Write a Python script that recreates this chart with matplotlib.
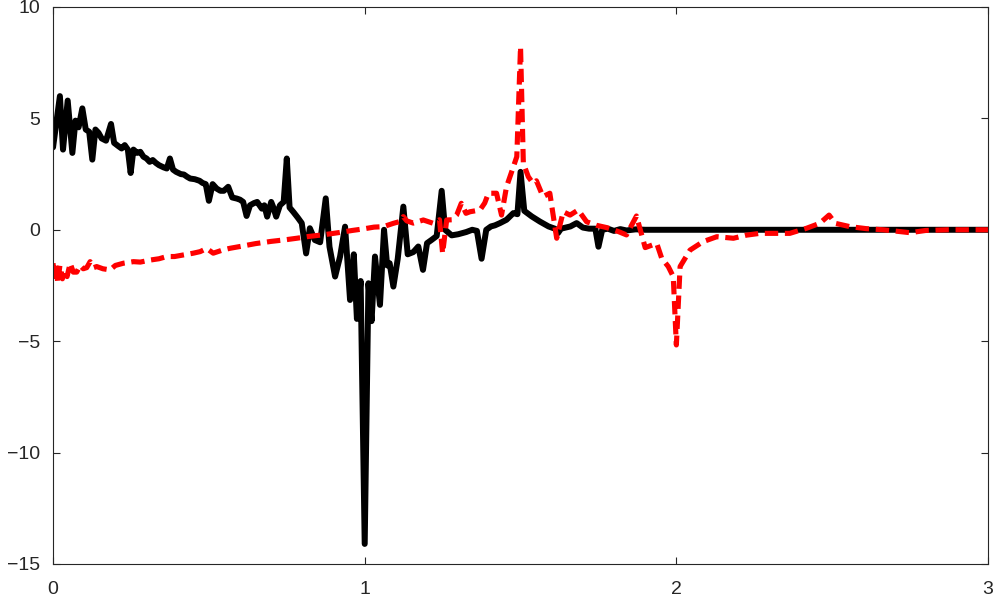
import matplotlib
matplotlib.use('Agg')
import matplotlib.pyplot as plt

# black curve, vertices
black_x = [0.000, 0.022, 0.032, 0.047, 0.062, 0.072, 0.082, 0.094, 0.105, 0.116,
           0.126, 0.136, 0.146, 0.156, 0.170, 0.186, 0.196, 0.210, 0.220, 0.230,
           0.240, 0.249, 0.258, 0.270, 0.280, 0.290, 0.300, 0.310, 0.320, 0.330,
           0.340, 0.355, 0.365, 0.375, 0.385, 0.395, 0.410, 0.420, 0.430, 0.440,
           0.455, 0.470, 0.480, 0.490, 0.500, 0.512, 0.525, 0.537, 0.548, 0.562,
           0.575, 0.590, 0.600, 0.610, 0.621, 0.632, 0.645, 0.655, 0.670, 0.678,
           0.687, 0.700, 0.707, 0.716, 0.728, 0.740, 0.750, 0.759, 0.771, 0.785,
           0.798, 0.812, 0.824, 0.840, 0.857, 0.875, 0.887, 0.905, 0.921, 0.937,
           0.953, 0.965, 0.975, 0.987, 1.000, 1.012, 1.022, 1.033, 1.049, 1.062,
           1.072, 1.080, 1.092, 1.106, 1.124, 1.138, 1.156, 1.172, 1.187, 1.200,
           1.215, 1.231, 1.247, 1.258, 1.279, 1.300, 1.326, 1.345, 1.360, 1.375,
           1.390, 1.405, 1.418, 1.434, 1.455, 1.477, 1.490, 1.500, 1.512, 1.536,
           1.562, 1.590, 1.610, 1.620, 1.630, 1.660, 1.680, 1.700, 1.720, 1.740,
           1.750, 1.762, 1.780, 1.800, 1.820, 1.840, 1.870, 1.900, 3.000]
black_y = [3.70, 6.00, 3.60, 5.80, 3.45, 4.90, 4.60, 5.45, 4.50, 4.40,
           3.15, 4.50, 4.35, 4.10, 4.00, 4.75, 3.90, 3.75, 3.65, 3.80,
           3.60, 2.55, 3.60, 3.45, 3.50, 3.28, 3.20, 3.05, 3.13, 3.00,
           2.90, 2.80, 2.75, 3.20, 2.70, 2.60, 2.50, 2.48, 2.38, 2.30,
           2.27, 2.20, 2.10, 2.05, 1.30, 2.05, 1.85, 1.75, 1.75, 1.93,
           1.45, 1.40, 1.35, 1.25, 0.62, 1.10, 1.20, 1.25, 0.95, 1.10,
           0.59, 1.25, 1.00, 0.59, 1.10, 1.25, 3.20, 1.00, 0.80, 0.55,
           0.30, -1.06, 0.07, -0.46, -0.56, 1.41, -0.76, -2.10, -1.20, 0.14,
           -3.15, -1.10, -4.00, -2.30, -14.10, -2.40, -4.10, -1.20, -3.37, 0.00,
           -1.60, -1.50, -2.55, -1.30, 1.04, -1.10, -1.00, -0.75, -1.80, -0.60,
           -0.45, -0.28, 1.75, 0.00, -0.25, -0.20, -0.10, 0.00, -0.05, -1.30,
           0.00, 0.15, 0.20, 0.30, 0.45, 0.75, 0.70, 2.60, 0.85, 0.60,
           0.37, 0.15, 0.05, -0.15, 0.05, 0.15, 0.30, 0.10, 0.05, 0.05,
           -0.76, 0.00, 0.05, -0.05, 0.03, -0.03, 0.02, 0.00, 0.00]

# red dashed curve
red_x = [0.000, 0.005, 0.010, 0.015, 0.022, 0.030, 0.035, 0.045, 0.055, 0.065,
         0.076, 0.087, 0.097, 0.108, 0.119, 0.130, 0.140, 0.160, 0.183, 0.200,
         0.226, 0.258, 0.280, 0.311, 0.340, 0.365, 0.390, 0.418, 0.450, 0.472,
         0.493, 0.514, 0.546, 0.568, 0.600, 0.650, 0.700, 0.750, 0.782, 0.820,
         0.870, 0.920, 0.960, 0.996, 1.030, 1.060, 1.092, 1.115, 1.124, 1.135,
         1.156, 1.188, 1.220, 1.240, 1.250, 1.263, 1.280, 1.295, 1.310, 1.325,
         1.338, 1.370, 1.385, 1.397, 1.423, 1.439, 1.455, 1.470, 1.488, 1.500,
         1.509, 1.525, 1.540, 1.551, 1.572, 1.594, 1.616, 1.637, 1.659, 1.685,
         1.712, 1.744, 1.776, 1.814, 1.840, 1.872, 1.900, 1.937, 1.953, 1.974,
         1.990, 2.000, 2.012, 2.044, 2.086, 2.130, 2.183, 2.225, 2.268, 2.364,
         2.418, 2.460, 2.490, 2.510, 2.557, 2.610, 2.664, 2.750, 2.800, 2.870,
         3.000]
red_y = [-1.50, -2.30, -1.50, -2.40, -1.60, -2.20, -1.80, -2.10, -1.50, -1.90,
         -1.90, -1.60, -1.75, -1.70, -1.43, -1.70, -1.65, -1.75, -1.80, -1.60,
         -1.50, -1.43, -1.45, -1.36, -1.30, -1.20, -1.20, -1.13, -1.05, -0.98,
         -0.84, -1.05, -0.90, -0.83, -0.75, -0.62, -0.52, -0.44, -0.38, -0.30,
         -0.22, -0.12, -0.03, 0.04, 0.12, 0.14, 0.29, 0.38, 0.59, 0.40,
         0.30, 0.44, 0.29, 0.45, -1.06, 0.44, 0.45, 0.66, 1.19, 0.74,
         0.81, 0.89, 1.20, 1.64, 1.64, 0.66, 1.93, 2.54, 3.28, 8.22,
         2.98, 2.38, 2.09, 2.20, 1.49, 1.64, -0.38, 0.81, 0.66, 0.89,
         0.36, 0.20, 0.10, -0.08, -0.23, 0.62, -0.80, -0.61, -1.28, -1.65,
         -2.10, -5.17, -1.65, -0.91, -0.53, -0.31, -0.38, -0.24, -0.16, -0.16,
         0.07, 0.29, 0.66, 0.29, 0.14, 0.05, 0.00, -0.13, -0.03, 0.00,
         0.00]

x_ticks = [0, 1, 2, 3]
y_ticks = [-15, -10, -5, 0, 5, 10]

plt.rcParams['font.family'] = ['Liberation Sans', 'DejaVu Sans']
plt.rcParams['axes.unicode_minus'] = True

fig = plt.figure(figsize=(9.97, 5.98), dpi=100)
ax = fig.add_axes([0.0532, 0.0569, 0.9378, 0.9314])

ax.plot(black_x, black_y, color='black', linewidth=4.3,
        solid_joinstyle='round', solid_capstyle='round')
ax.plot(red_x, red_y, color='#ff0000', linewidth=3.7, dashes=(2.6, 1.3))

ax.set_xlim(0, 3)
ax.set_ylim(-15, 10)
ax.set_xticks(x_ticks)
ax.set_yticks(y_ticks)
ax.tick_params(direction='in', length=5, width=0.8, colors='#262626',
               labelsize=14, top=True, right=True)
ax.tick_params(axis='x', pad=12)
ax.tick_params(axis='y', pad=9)
for s in ax.spines.values():
    s.set_color('#262626')
    s.set_linewidth(0.8)

fig.savefig('out.png', dpi=100)
